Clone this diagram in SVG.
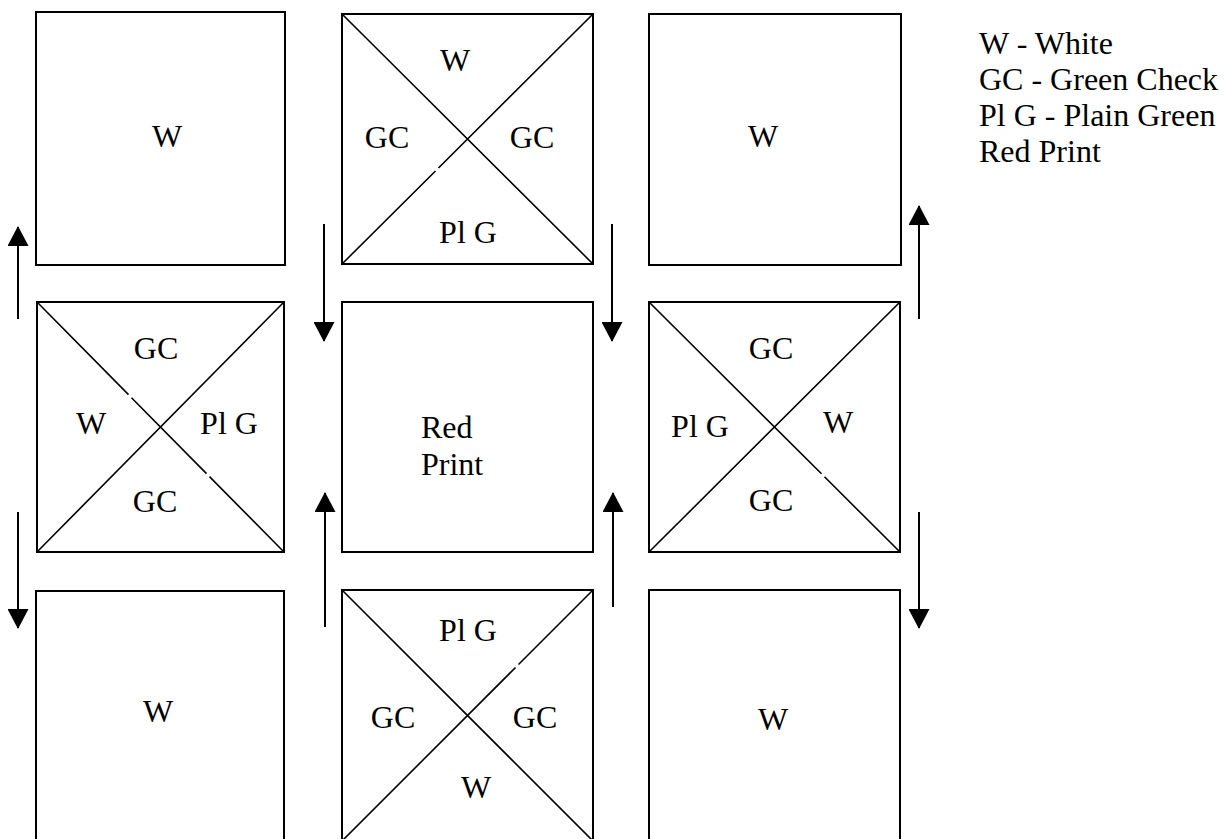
<svg xmlns="http://www.w3.org/2000/svg" width="1230" height="839" viewBox="0 0 1230 839">
<style>
.box{fill:#fff;stroke:#000;stroke-width:2}
.diag{fill:none;stroke:#000;stroke-width:1.6}
.lbl{font-family:"Liberation Serif","Times New Roman",serif;font-size:32px;fill:#000;text-anchor:middle}
.leg{font-family:"Liberation Serif","Times New Roman",serif;font-size:32px;fill:#000}
.arr{fill:none;stroke:#000;stroke-width:2;marker-end:url(#head)}
</style>
<defs>
<marker id="head" viewBox="0 0 20 21" refX="19" refY="10.5" markerWidth="20" markerHeight="21" markerUnits="userSpaceOnUse" orient="auto">
<path d="M0,0 L20,10.5 L0,21 Z" fill="#000"/>
</marker>
</defs>
<rect width="1230" height="839" fill="#fff"/>

<g id="tl">
<rect class="box" x="36" y="12" width="249" height="253"/>
<text class="lbl" x="167" y="147">W</text>
</g>

<g id="tm">
<rect class="box" x="342" y="14" width="251" height="250"/>
<path class="diag" d="M342,14 L593,264 M342,264 L435.5,171 M438.5,168 L593,14"/>
<text class="lbl" x="455" y="71">W</text>
<text class="lbl" x="387" y="148">GC</text>
<text class="lbl" x="532" y="148">GC</text>
<text class="lbl" x="468" y="243">Pl G</text>
</g>

<g id="tr">
<rect class="box" x="649" y="14" width="252" height="251"/>
<text class="lbl" x="763" y="147">W</text>
</g>

<g id="ml">
<rect class="box" x="37" y="302" width="247" height="250"/>
<path class="diag" d="M37,302 L128.5,394.6 M131.5,397.7 L206.5,473.6 M209.5,476.6 L284,552 M37,552 L284,302"/>
<text class="lbl" x="156" y="359">GC</text>
<text class="lbl" x="91" y="434">W</text>
<text class="lbl" x="229" y="434">Pl G</text>
<text class="lbl" x="155" y="512">GC</text>
</g>

<g id="mc">
<rect class="box" x="342" y="302" width="251" height="250"/>
<text class="leg" x="421" y="438">Red</text>
<text class="leg" x="421" y="475">Print</text>
</g>

<g id="mr">
<rect class="box" x="649" y="302" width="251" height="250"/>
<path class="diag" d="M649,302 L821.5,473.8 M824.5,476.8 L900,552 M649,552 L900,302"/>
<text class="lbl" x="771" y="359">GC</text>
<text class="lbl" x="700" y="437">Pl G</text>
<text class="lbl" x="838" y="433">W</text>
<text class="lbl" x="771" y="511">GC</text>
</g>

<g id="bl">
<rect class="box" x="36" y="591" width="248" height="260"/>
<text class="lbl" x="158" y="722">W</text>
</g>

<g id="bm">
<rect class="box" x="342" y="590" width="251" height="251"/>
<path class="diag" d="M342,590 L593,841 M342,841 L515.5,667.5 M518.5,664.5 L593,590"/>
<text class="lbl" x="468" y="641">Pl G</text>
<text class="lbl" x="393" y="728">GC</text>
<text class="lbl" x="535" y="728">GC</text>
<text class="lbl" x="476" y="798">W</text>
</g>

<g id="br">
<rect class="box" x="649" y="590" width="251" height="260"/>
<text class="lbl" x="773" y="730">W</text>
</g>

<g id="legend">
<text class="leg" x="979" y="54">W - White</text>
<text class="leg" x="979" y="90">GC - Green Check</text>
<text class="leg" x="979" y="126">Pl G - Plain Green</text>
<text class="leg" x="979" y="162">Red Print</text>
</g>

<g id="connectors">
<line class="arr" x1="18" y1="319" x2="18" y2="227"/>
<line class="arr" x1="18" y1="512" x2="18" y2="628"/>
<line class="arr" x1="324" y1="224" x2="324" y2="341"/>
<line class="arr" x1="612" y1="224" x2="612" y2="341"/>
<line class="arr" x1="325" y1="627" x2="325" y2="493"/>
<line class="arr" x1="613" y1="607" x2="613" y2="493"/>
<line class="arr" x1="919" y1="319" x2="919" y2="206"/>
<line class="arr" x1="919" y1="512" x2="919" y2="628"/>
</g>
</svg>
